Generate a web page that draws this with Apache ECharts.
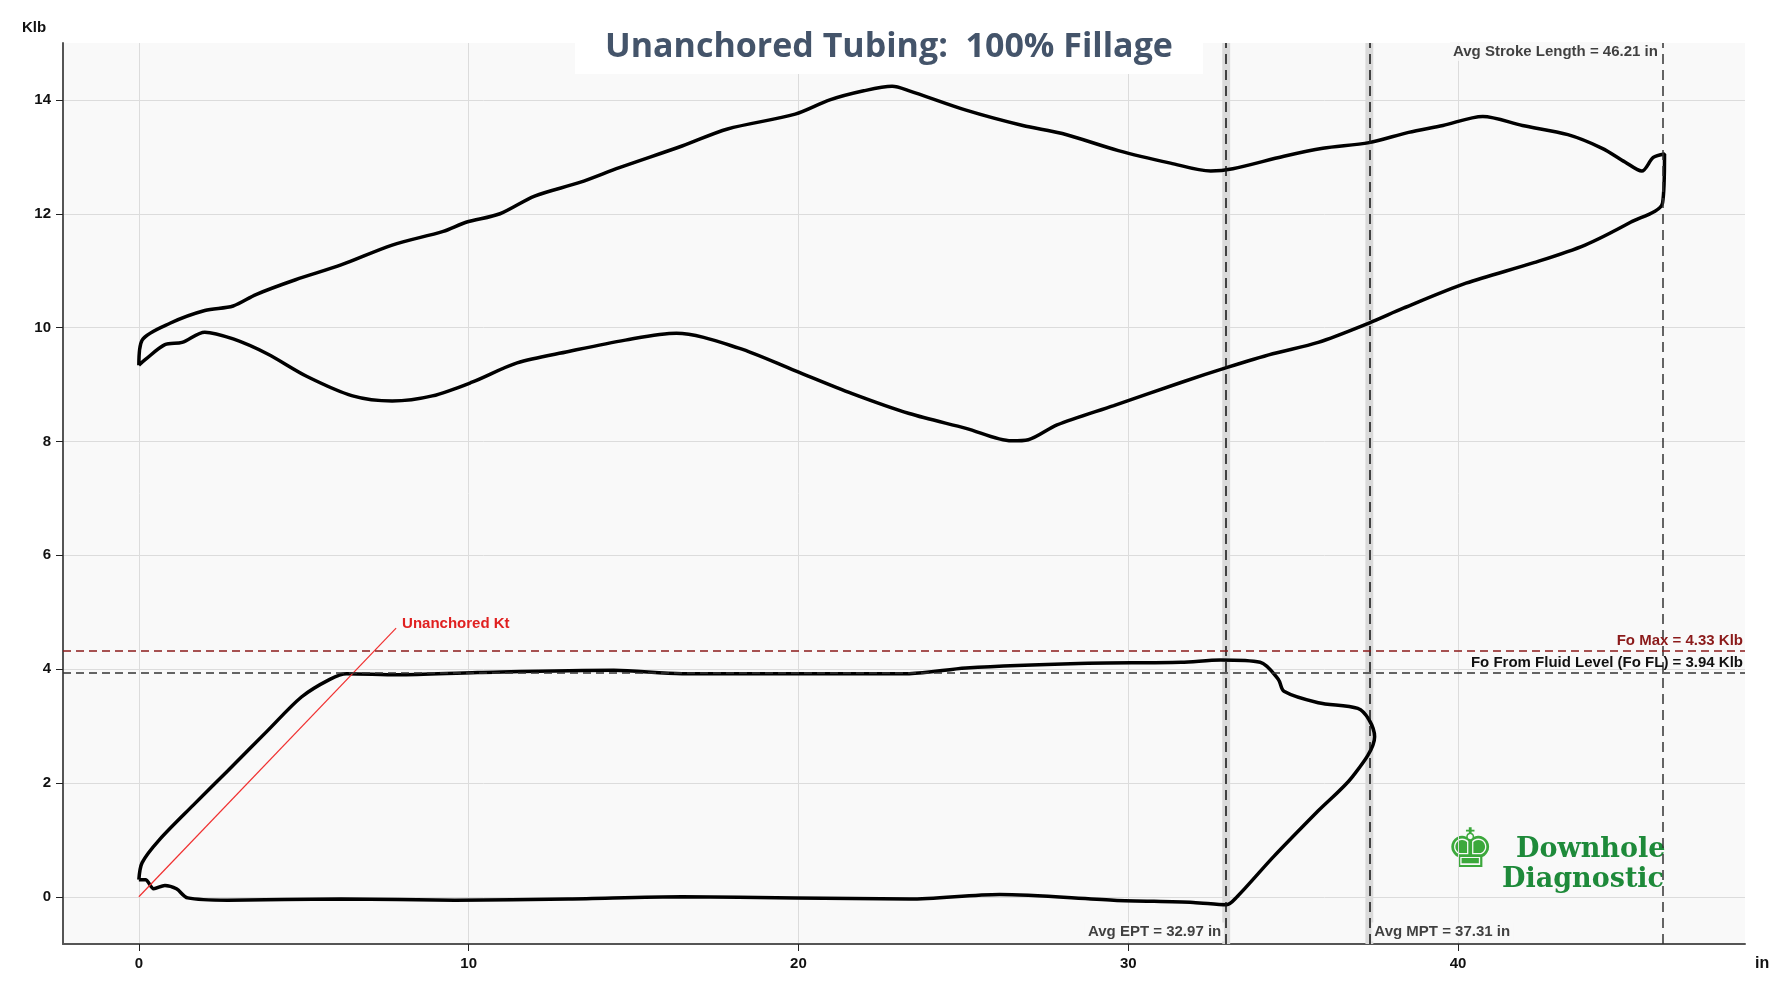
<!DOCTYPE html>
<html>
<head>
<meta charset="utf-8">
<script src="https://cdn.jsdelivr.net/npm/echarts@6/dist/echarts.min.js"></script>
<style>html,body{margin:0;padding:0;background:#fff}#main{width:1782px;height:990px}</style>
</head>
<body>
<div id="main"></div>
<script>
// surface card (position in, load Klb)
var surfaceCard = [
	[0,9.34],[0.1,9.78],[0.96,10.08],[2,10.3],[2.86,10.38],[3.55,10.58],[4.75,10.84],[6.13,11.1],
	[7.68,11.45],[9.23,11.69],[9.92,11.85],[10.95,12.0],[12,12.31],[13.37,12.55],[14.57,12.81],
	[16.47,13.19],[17.85,13.49],[19.9,13.75],[20.95,14.0],[21.98,14.16],[22.84,14.24],[23.36,14.16],
	[25.08,13.82],[26.8,13.55],[28,13.41],[29.7,13.11],[31.28,12.89],[32.5,12.75],[33.17,12.79],
	[34.72,13.01],[35.9,13.15],[37.3,13.25],[38.5,13.43],[39.54,13.55],[40.75,13.71],[41.95,13.55],
	[43.33,13.39],[44.37,13.15],[45.06,12.91],[45.57,12.75],[45.92,12.99],[46.26,13.05],[46.2,12.19],
	[45.23,11.85],[43.85,11.45],[42.3,11.14],[40.24,10.78],[38.34,10.34],[37.3,10.08],[35.76,9.74],
	[34.38,9.54],[33,9.3],[31.62,9.04],[29.56,8.63],[27.84,8.29],[26.97,8.03],[26.46,8.01],
	[25.08,8.23],[23.36,8.49],[21.63,8.84],[19.91,9.24],[18.19,9.64],[16.3,9.9],[14.75,9.78],
	[13.03,9.58],[11.47,9.38],[10.1,9.04],[8.9,8.8],[7.68,8.71],[6.48,8.8],[5.1,9.14],[3.89,9.54],
	[2.86,9.8],[2,9.92],[1.31,9.74],[0.79,9.7],[0.2,9.44],[0,9.34]
];
// pump card
var pumpCard = [
	[0,0.3],[0.1,0.6],[0.62,1.0],[1.65,1.61],[2.69,2.21],[3.89,2.91],[4.93,3.51],[5.79,3.82],
	[6.3,3.92],[7.85,3.9],[10.27,3.94],[14.4,3.98],[16.47,3.92],[19.9,3.92],[23.36,3.92],[25.08,4.02],
	[28.5,4.1],[31.6,4.12],[32.8,4.16],[34,4.12],[34.55,3.82],[34.72,3.61],[35.76,3.41],[36.96,3.31],
	[37.3,3.11],[37.47,2.81],[36.8,2.11],[35.76,1.51],[34.4,0.7],[33.3,0],[32.98,-0.14],[31.97,-0.1],
	[29.56,-0.06],[26.1,0.04],[23.36,-0.04],[19.9,-0.02],[16.47,0],[13.03,-0.04],[9.58,-0.06],
	[6.13,-0.04],[2.69,-0.06],[1.48,-0.02],[1.14,0.14],[0.79,0.2],[0.45,0.14],[0.2,0.3],[0,0.3]
];
var ktLine = [[0,0],[7.8,4.72]];
var foMax = 4.33;
var foFL = 3.94;
var avgEPT = 32.97;
var avgMPT = 37.31;
var strokeLength = 46.21;
var xTicks = [0,10,20,30,40];
var yTicks = [0,2,4,6,8,10,12,14];

var chart = echarts.init(document.getElementById("main"));
var font = "Arial, 'Liberation Sans', sans-serif";
var lbl = {color: "#111", fontSize: 15, fontWeight: "bold", fontFamily: font, backgroundColor: "#f9f9f9", padding: [2, 3]};
var option = {
	animation: false,
	backgroundColor: "#fff",
	title: {
		text: "Unanchored Tubing:  100% Fillage",
		left: 575, top: 24,
		backgroundColor: "#fff", padding: [6, 30, 10, 30],
		textStyle: {color: "#44546a", fontSize: 34, fontWeight: "bold", fontFamily: "'Open Sans', sans-serif"}
	},
	grid: {left: 63, right: 37, top: 43, bottom: 46, show: true, backgroundColor: "#f9f9f9", borderWidth: 0},
	xAxis: {
		type: "value", min: -2.3, max: 48.7,
		name: "in", nameLocation: "end", nameGap: 10,
		nameTextStyle: {color: "#111", fontSize: 16, fontWeight: "bold", fontFamily: font, verticalAlign: "top", padding: [12, 0, 0, 0]},
		axisLine: {onZero: false, lineStyle: {color: "#555", width: 2}},
		axisTick: {customValues: xTicks, length: 7, lineStyle: {color: "#222"}},
		axisLabel: {customValues: xTicks, color: "#111", fontSize: 15, fontWeight: "bold", fontFamily: font, margin: 12},
		splitLine: {show: true, lineStyle: {color: "#dcdcdc"}}
	},
	yAxis: {
		type: "value", min: -0.83, max: 15,
		axisLine: {show: true, onZero: false, lineStyle: {color: "#555", width: 2}},
		axisTick: {show: true, customValues: yTicks, length: 7, lineStyle: {color: "#222"}},
		axisLabel: {customValues: yTicks, color: "#111", fontSize: 15, fontWeight: "bold", fontFamily: font, margin: 12},
		splitLine: {show: true, lineStyle: {color: "#dcdcdc"}}
	},
	series: [
		{
			type: "line", data: surfaceCard, symbol: "none", smooth: 0.3,
			lineStyle: {color: "#000", width: 3.5},
			markArea: {
				silent: true,
				itemStyle: {color: "#dadada"},
				data: [
					[{xAxis: avgEPT - 0.12}, {xAxis: avgEPT + 0.12}],
					[{xAxis: avgMPT - 0.12}, {xAxis: avgMPT + 0.12}]
				]
			},
			markLine: {
				silent: true, symbol: "none", label: {show: false},
				data: [
					{xAxis: avgEPT, lineStyle: {color: "#111", type: [10, 6], width: 1.5}},
					{xAxis: avgMPT, lineStyle: {color: "#111", type: [10, 6], width: 1.5}},
					{xAxis: strokeLength, lineStyle: {color: "#333", type: [10, 6], width: 1.5}},
					{yAxis: foMax, lineStyle: {color: "#8b1a1a", type: [8, 5], width: 1.5},
						label: {show: true, formatter: "Fo Max = 4.33 Klb", position: "insideEndTop", color: "#8b1a1a", fontSize: 15, fontWeight: "bold", fontFamily: font, distance: 2}},
					{yAxis: foFL, lineStyle: {color: "#333", type: [8, 5], width: 1.5},
						label: {show: true, formatter: "Fo From Fluid Level (Fo FL) = 3.94 Klb", position: "insideEndTop", color: "#111", fontSize: 15, fontWeight: "bold", fontFamily: font, distance: 2}}
				]
			}
		},
		{
			type: "line", data: pumpCard, symbol: "none", smooth: 0.3,
			lineStyle: {color: "#000", width: 3.5}
		},
		{
			type: "line", data: ktLine, symbol: "none",
			lineStyle: {color: "#f03030", width: 1.2},
			endLabel: {show: true, formatter: "Unanchored Kt", color: "#e02020", fontSize: 15, fontWeight: "bold", fontFamily: font, offset: [-2, -4]}
		},
		{
			type: "scatter", symbolSize: 0, silent: true,
			data: [
				{value: [avgEPT, -0.62], label: {show: true, position: "left", distance: 2, formatter: "Avg EPT = 32.97 in"}},
				{value: [avgMPT, -0.62], label: {show: true, position: "right", distance: 2, formatter: "Avg MPT = 37.31 in"}},
				{value: [strokeLength, 14.85], label: {show: true, position: "left", distance: 2, formatter: "Avg Stroke Length = 46.21 in"}}
			],
			label: lbl
		}
	],
	graphic: [
		{type: "text", left: 22, top: 20, style: {text: "Klb", fill: "#111", font: "bold 15px Arial, 'Liberation Sans', sans-serif"}},
		{type: "text", left: 1516, top: 836, style: {text: "Downhole", fill: "#1e8a3a", font: "bold 27px 'DejaVu Serif', serif"}},
		{type: "text", left: 1502, top: 866, style: {text: "Diagnostic", fill: "#1e8a3a", font: "bold 27px 'DejaVu Serif', serif"}},
		{type: "text", left: 1446, top: 826, style: {text: "\u265A", fill: "#3ca83c", font: "54px 'DejaVu Sans', sans-serif"}}
	]
};
chart.setOption(option);
</script>
</body>
</html>
